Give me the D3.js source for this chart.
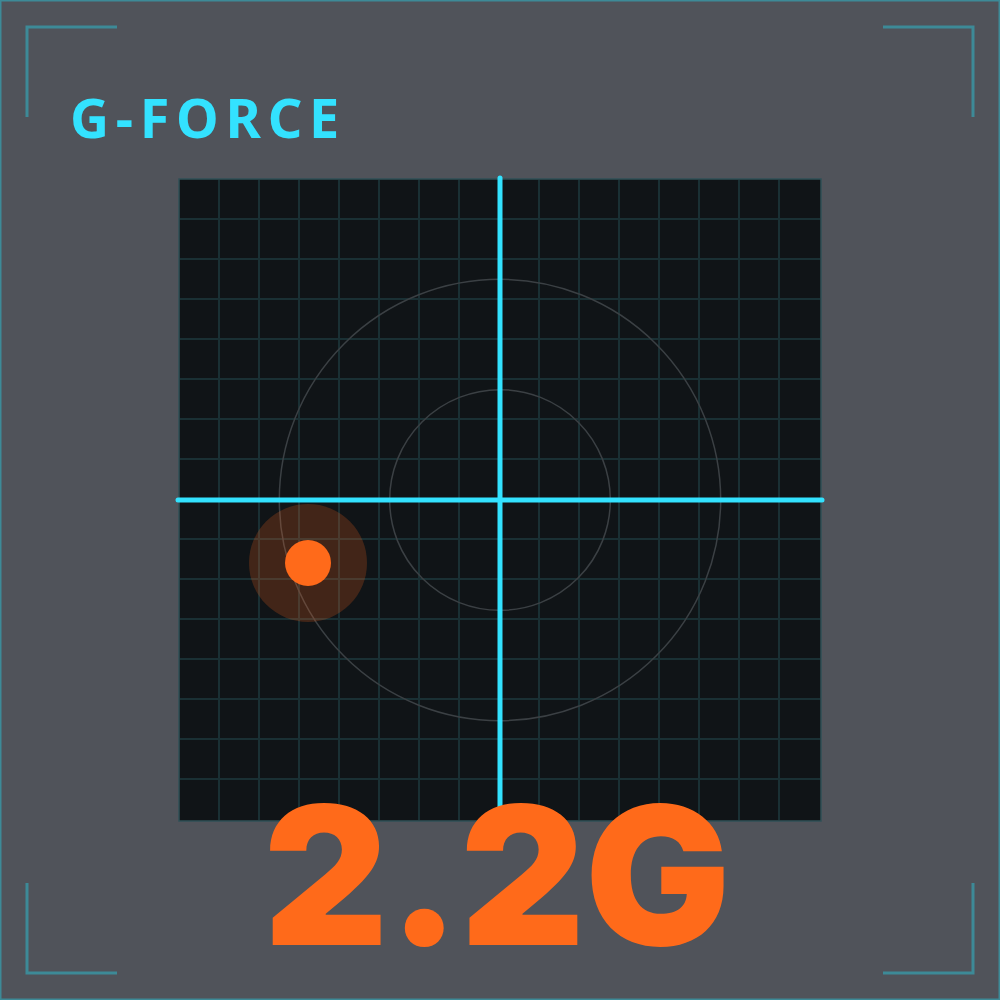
<!DOCTYPE html>
<html>
<head>
<meta charset="utf-8">
<script src="https://cdn.jsdelivr.net/npm/d3@7"></script>
<style>
  html, body { margin: 0; padding: 0; background: #50535a; }
</style>
</head>
<body>
<div id="chart"></div>
<script>
// data ------------------------------------------------------------------
const title = 'G-FORCE';
const readout = '2.2G';
const gMax = 2.9;                 // half width of the plot in G
const ringLevels = [1, 2];        // reference rings in G
const gridDivisions = d3.range(0, 17);   // 16 cells each way
const pointLateral = [-1.74];     // G, x
const pointLongitudinal = [-0.57]; // G, y

// CHART INIT ------------------------------------------------------------
const width = 1000, height = 1000;
const plot = {left: 180, top: 180, size: 640};

const svg = d3.select('#chart')
  .append('svg')
  .attr('width', width)
  .attr('height', height);

// background + frame
svg.append('rect')
  .attr('x', 0.75).attr('y', 0.75)
  .attr('width', width - 1.5).attr('height', height - 1.5)
  .attr('fill', '#50535a')
  .attr('stroke', '#3d8a97')
  .attr('stroke-width', 1.5);

// corner brackets
const bracket = 90;
const corners = [[27, 27, 1, 1], [973, 27, -1, 1], [27, 973, 1, -1], [973, 973, -1, -1]];
svg.append('g').selectAll('path')
  .data(corners)
  .join('path')
  .attr('d', d => `M${d[0] + d[2] * bracket},${d[1]}H${d[0]}V${d[1] + d[3] * bracket}`)
  .attr('fill', 'none')
  .attr('stroke', '#3d8a97')
  .attr('stroke-width', 3);

// title
svg.append('text')
  .attr('x', 70)
  .attr('y', 138)
  .attr('fill', '#33e2ff')
  .attr('font-family', 'Noto Sans, sans-serif')
  .attr('font-weight', 'bold')
  .attr('font-size', 54)
  .attr('letter-spacing', 6.7)
  .text(title);

// scales
const xScale = d3.scaleLinear()
  .domain([-gMax, gMax])
  .range([plot.left, plot.left + plot.size]);
const yScale = d3.scaleLinear()
  .domain([-gMax, gMax])
  .range([plot.top + plot.size, plot.top]);
const rScale = d3.scaleLinear()
  .domain([0, gMax])
  .range([0, plot.size / 2]);
const gridScale = d3.scaleLinear()
  .domain([0, 16])
  .range([plot.left, plot.left + plot.size]);

// plot background
svg.append('rect')
  .attr('x', plot.left - 1).attr('y', plot.top - 1)
  .attr('width', plot.size + 2).attr('height', plot.size + 2)
  .attr('fill', '#101417')
  .attr('stroke', '#2f5057')
  .attr('stroke-width', 1.5);

// grid
const grid = svg.append('g').attr('class', 'grid')
  .attr('stroke', '#1a3034')
  .attr('stroke-width', 2);
grid.selectAll('.gx')
  .data(gridDivisions.slice(1, -1))
  .join('line')
  .attr('class', 'gx')
  .attr('x1', d => gridScale(d) - 1).attr('x2', d => gridScale(d) - 1)
  .attr('y1', plot.top).attr('y2', plot.top + plot.size);
grid.selectAll('.gy')
  .data(gridDivisions.slice(1, -1))
  .join('line')
  .attr('class', 'gy')
  .attr('y1', d => gridScale(d) - 1).attr('y2', d => gridScale(d) - 1)
  .attr('x1', plot.left).attr('x2', plot.left + plot.size);

// rings
svg.append('g').selectAll('circle')
  .data(ringLevels)
  .join('circle')
  .attr('cx', xScale(0))
  .attr('cy', yScale(0))
  .attr('r', d => rScale(d))
  .attr('fill', 'none')
  .attr('stroke', '#3b4044')
  .attr('stroke-width', 1.5);

// crosshair
const cross = svg.append('g')
  .attr('stroke', '#33e2ff')
  .attr('stroke-width', 5)
  .attr('stroke-linecap', 'round');
cross.append('line')
  .attr('x1', xScale(-gMax) - 2).attr('x2', xScale(gMax) + 2)
  .attr('y1', yScale(0)).attr('y2', yScale(0));
cross.append('line')
  .attr('x1', xScale(0)).attr('x2', xScale(0))
  .attr('y1', yScale(gMax) - 2).attr('y2', yScale(-gMax) + 2);

// point
const points = pointLateral.map((v, i) => ({x: v, y: pointLongitudinal[i]}));
const pt = svg.append('g').selectAll('g')
  .data(points)
  .join('g');
pt.append('circle')
  .attr('cx', d => xScale(d.x)).attr('cy', d => yScale(d.y))
  .attr('r', 59)
  .attr('fill', '#ff6a1a')
  .attr('fill-opacity', 0.21);
pt.append('circle')
  .attr('cx', d => xScale(d.x)).attr('cy', d => yScale(d.y))
  .attr('r', 23)
  .attr('fill', '#ff6a1a');

// readout
svg.append('text')
  .attr('x', 497)
  .attr('y', 945)
  .attr('text-anchor', 'middle')
  .attr('fill', '#ff6a1a')
  .attr('font-family', 'Inter, sans-serif')
  .attr('font-weight', 900)
  .attr('font-size', 193)
  .text(readout);
</script>
</body>
</html>
